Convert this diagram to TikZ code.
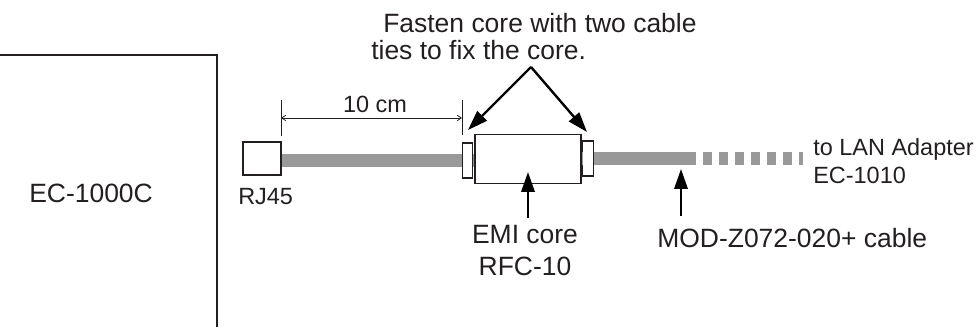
\documentclass[tikz,border=0pt]{standalone}
\usepackage{fontspec}
\setmainfont{Liberation Sans}
\usetikzlibrary{arrows.meta,positioning}
\definecolor{inkline}{HTML}{231F20}
\definecolor{cablegrey}{HTML}{999999}
\tikzset{
  label/.style={inner sep=0pt, text=inkline, align=left, anchor=west,
    font=\fontsize{19.85}{24}\selectfont},
  smalllabel/.style={label, font=\fontsize{17.6}{21}\selectfont},
  part/.style={draw=inkline, fill=white, line width=1.2pt, inner sep=0pt},
  tiebox/.style={draw=inkline, fill=white, line width=0.8pt, inner sep=0pt,
    minimum width=8pt, minimum height=26.25pt},
  cable/.style={draw=cablegrey, line width=9.75pt},
  arr/.style={-{Stealth[length=15pt, width=10pt, inset=0pt]}, line width=1.8pt, draw=black},
  dimline/.style={{Straight Barb[length=3pt, width=4pt]}-{Straight Barb[length=3pt, width=4pt]}, line width=0.6pt, draw=inkline},
  tick/.style={line width=0.7pt, draw=inkline}
}
\begin{document}
\begin{tikzpicture}[x=0.75pt, y=-0.75pt]
  \useasboundingbox (0,0) rectangle (979,331);
  % unit
  \draw[line width=1.1pt, draw=inkline] (0,55) -- (217,55) -- (217,327);
  \node[label] (unit) at (29,193) {EC-1000C};
  % cable parts
  \node[part, minimum width=28.5pt, minimum height=24.75pt] (rj45) at (262,158.5) {};
  \node[part, minimum width=79.5pt, minimum height=36.75pt] (core) at (528,159) {};
  \node[tiebox] (lefttie) at (467.5,160.5) {};
  \node[tiebox] (righttie) at (588,158.5) {};
  \coordinate (cableend) at (696,158.5);
  \coordinate (dashstart) at (703,158.5);
  \coordinate (dashend) at (803,158.5);
  \draw[cable] (rj45.east |- lefttie.west) -- (lefttie.west);
  \draw[cable] (lefttie.east) -- (core.west |- lefttie.east);
  \draw[cable] (core.east |- righttie.west) -- (righttie.west);
  \draw[cable] (righttie.east) -- (cableend);
  \draw[cable, dash pattern=on 6.75pt off 5.25pt] (dashstart) -- (dashend);
  % 10 cm
  \coordinate (dimleft) at (281,118);
  \coordinate (dimright) at (462,118);
  \draw[tick] (281,100) -- (281,136);
  \draw[tick] (462,100) -- (462,135);
  \draw[dimline] (dimleft) -- (dimright);
  \node[smalllabel, anchor=center] (dimtext) at (375,104) {10 cm};
  % labels
  \node[smalllabel] (rjtext) at (238,197) {RJ45};
  \node[label, font=\fontsize{19.85}{20.25}\selectfont] (fasten) at (371,36.5) {\hspace*{9pt}Fasten core with two cable\\ties to fix the core.};
  \coordinate (apex) at (531,67);
  \coordinate (lefttip) at (468,130);
  \coordinate (righttip) at (587,132);
  \draw[arr] (apex) -- (lefttip);
  \draw[arr] (apex) -- (righttip);
  \node[label, anchor=center, align=center] (emi) at (525,251) {EMI core\\RFC-10};
  \coordinate (emitip) at (528,172);
  \coordinate (emitail) at (528,218);
  \draw[arr] (emitail) -- (emitip);
  \node[label] (modz) at (657,238) {MOD-Z072-020+ cable};
  \coordinate (modtip) at (681,169);
  \coordinate (modtail) at (681,216);
  \draw[arr] (modtail) -- (modtip);
  \node[smalllabel] (lan) at (813,161) {to LAN Adapter\\EC-1010};
\end{tikzpicture}
\end{document}
